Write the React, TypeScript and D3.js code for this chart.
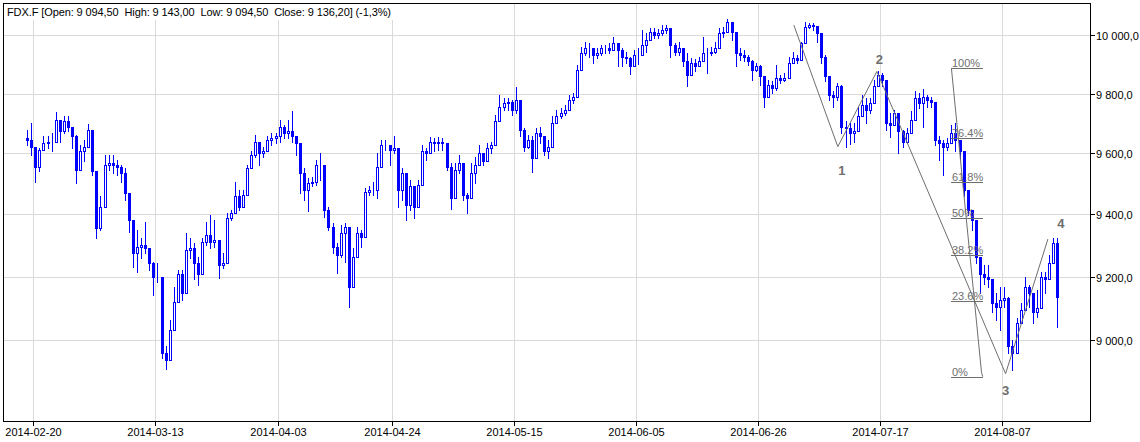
import React from 'react';
import * as d3 from 'd3';

// ---- data (two bars per trading day, open = previous close) ----
const firstOpen = 9650;
const closes = [
  9645, 9622, 9556, 9611, 9634, 9639, 9639, 9712, 9673, 9706,
  9689, 9656, 9545, 9606, 9622, 9678, 9540, 9355, 9425, 9562,
  9567, 9562, 9556, 9534, 9469, 9382, 9274, 9296, 9301, 9290,
  9242, 9199, 9199, 8960, 8940, 9032, 9121, 9210, 9147, 9285,
  9290, 9242, 9210, 9312, 9333, 9312, 9317, 9237, 9242, 9387,
  9403, 9458, 9425, 9463, 9551, 9595, 9639, 9600, 9606, 9645,
  9651, 9656, 9689, 9667, 9673, 9656, 9634, 9534, 9480, 9502,
  9507, 9562, 9562, 9414, 9360, 9296, 9269, 9339, 9360, 9168,
  9263, 9339, 9328, 9474, 9480, 9480, 9556, 9628, 9628, 9611,
  9617, 9480, 9534, 9431, 9491, 9425, 9496, 9606, 9600, 9639,
  9634, 9639, 9634, 9556, 9452, 9545, 9567, 9463, 9452, 9534,
  9562, 9600, 9573, 9617, 9628, 9706, 9756, 9768, 9773, 9745,
  9779, 9678, 9622, 9645, 9584, 9667, 9656, 9606, 9622, 9701,
  9723, 9734, 9745, 9779, 9790, 9881, 9938, 9955, 9955, 9932,
  9938, 9955, 9955, 9949, 9972, 9949, 9926, 9920, 9892, 9932,
  9932, 9966, 9983, 10011, 10000, 10006, 10017, 10023, 9966, 9943,
  9955, 9909, 9864, 9903, 9892, 9909, 9938, 9938, 9943, 9955,
  10006, 10011, 10045, 10011, 9938, 9932, 9926, 9909, 9881, 9892,
  9858, 9790, 9830, 9818, 9852, 9847, 9852, 9903, 9920, 9915,
  9972, 10028, 10034, 10031, 10006, 9926, 9858, 9796, 9790, 9826,
  9689, 9684, 9667, 9673, 9723, 9762, 9745, 9768, 9824, 9864,
  9847, 9701, 9695, 9734, 9673, 9639, 9667, 9712, 9784, 9768,
  9790, 9779, 9773, 9645, 9634, 9622, 9634, 9667, 9645, 9606,
  9480, 9414, 9382, 9263, 9210, 9199, 9194, 9116, 9105, 9126,
  9131, 8981, 8960, 9053, 9095, 9168, 9147, 9090, 9100, 9199,
  9194, 9242, 9307, 9136,
];
const highs = [
  9678, 9701, 9606, 9617, 9656, 9656, 9667, 9737, 9712, 9723,
  9725, 9689, 9662, 9628, 9645, 9698, 9595, 9458, 9458, 9595,
  9595, 9595, 9578, 9562, 9551, 9431, 9382, 9349, 9323, 9376,
  9290, 9247, 9242, 9131, 8981, 9063, 9168, 9220, 9220, 9339,
  9323, 9307, 9263, 9323, 9376, 9398, 9382, 9274, 9274, 9403,
  9414, 9507, 9480, 9480, 9562, 9609, 9662, 9622, 9622, 9658,
  9667, 9667, 9712, 9695, 9712, 9740, 9656, 9606, 9551, 9518,
  9523, 9578, 9600, 9545, 9425, 9371, 9307, 9366, 9371, 9328,
  9290, 9360, 9349, 9485, 9491, 9504, 9600, 9645, 9645, 9628,
  9658, 9578, 9551, 9485, 9513, 9491, 9513, 9628, 9617, 9654,
  9651, 9654, 9651, 9589, 9567, 9567, 9595, 9534, 9469, 9567,
  9589, 9628, 9600, 9634, 9639, 9729, 9796, 9784, 9784, 9779,
  9822, 9745, 9684, 9662, 9656, 9684, 9689, 9645, 9645, 9723,
  9745, 9751, 9762, 9796, 9801, 9898, 9960, 9977, 9974, 9955,
  9955, 9966, 9966, 9972, 9992, 9966, 9955, 9943, 9926, 9949,
  9955, 10017, 10006, 10023, 10023, 10019, 10034, 10034, 10023, 9972,
  9977, 9949, 9938, 9920, 9917, 9926, 9994, 9955, 9960, 9977,
  10023, 10028, 10055, 10034, 10006, 9955, 9949, 9932, 9915, 9903,
  9898, 9847, 9847, 9841, 9898, 9864, 9869, 9926, 9943, 9932,
  9977, 10045, 10042, 10040, 10031, 9994, 9932, 9852, 9807, 9835,
  9830, 9706, 9701, 9701, 9756, 9796, 9784, 9784, 9847, 9878,
  9869, 9847, 9734, 9745, 9734, 9678, 9684, 9740, 9807, 9801,
  9815, 9796, 9790, 9745, 9656, 9645, 9651, 9695, 9701, 9622,
  9606, 9469, 9414, 9371, 9253, 9237, 9237, 9178, 9147, 9168,
  9168, 9136, 9001, 9069, 9116, 9199, 9173, 9126, 9157, 9215,
  9215, 9269, 9323, 9323,
];
const lows = [
  9628, 9595, 9507, 9540, 9611, 9617, 9606, 9673, 9639, 9667,
  9673, 9617, 9502, 9567, 9573, 9645, 9529, 9323, 9349, 9496,
  9545, 9534, 9529, 9507, 9447, 9344, 9231, 9215, 9258, 9274,
  9220, 9142, 9183, 8945, 8912, 8981, 9048, 9168, 9126, 9258,
  9258, 9194, 9173, 9253, 9301, 9290, 9296, 9197, 9226, 9339,
  9382, 9414, 9414, 9436, 9480, 9562, 9589, 9562, 9589, 9617,
  9628, 9634, 9639, 9651, 9651, 9639, 9595, 9469, 9447, 9411,
  9491, 9496, 9513, 9392, 9349, 9274, 9212, 9263, 9247, 9103,
  9231, 9285, 9296, 9339, 9463, 9463, 9452, 9589, 9611, 9562,
  9600, 9425, 9447, 9382, 9414, 9387, 9469, 9556, 9578, 9617,
  9606, 9611, 9611, 9545, 9417, 9529, 9534, 9447, 9405, 9463,
  9502, 9567, 9562, 9600, 9600, 9689, 9740, 9745, 9745, 9729,
  9734, 9656, 9606, 9617, 9537, 9645, 9634, 9595, 9584, 9678,
  9701, 9717, 9729, 9756, 9768, 9852, 9886, 9932, 9926, 9903,
  9920, 9932, 9938, 9938, 9949, 9892, 9892, 9903, 9867, 9909,
  9901, 9932, 9943, 9989, 9989, 9989, 10000, 10006, 9926, 9932,
  9932, 9892, 9826, 9881, 9875, 9892, 9909, 9869, 9932, 9938,
  9989, 9994, 10017, 9983, 9892, 9915, 9909, 9898, 9847, 9875,
  9830, 9756, 9801, 9801, 9813, 9835, 9841, 9864, 9903, 9903,
  9915, 10006, 10023, 10017, 9977, 9903, 9841, 9779, 9756, 9779,
  9667, 9622, 9632, 9639, 9689, 9734, 9701, 9734, 9768, 9835,
  9824, 9678, 9654, 9706, 9600, 9622, 9634, 9695, 9745, 9751,
  9689, 9756, 9756, 9628, 9578, 9529, 9611, 9639, 9606, 9578,
  9458, 9398, 9349, 9242, 9147, 9178, 9168, 9090, 9063, 9032,
  9105, 8960, 8909, 8976, 9074, 9152, 9105, 9053, 9074, 9147,
  9147, 9220, 9242, 9043,
];

const tickLabels = ['2014-02-20', '2014-03-13', '2014-04-03', '2014-04-24', '2014-05-15', '2014-06-05', '2014-06-26', '2014-07-17', '2014-08-07'];
const tickDays = [1, 16, 31, 45, 60, 75, 90, 105, 120];
const yTicks = [9000, 9200, 9400, 9600, 9800, 10000];

const waveDays = [94.4, 99.8, 104.6, 120.4, 125.6];
const wavePrices = [10034, 9622, 9875, 8897, 9320];
const waveLabels = ['1', '2', '3', '4'];
const waveLabelDays = [100.3, 104.9, 120.4, 127.2];
const waveLabelPrices = [9543, 9915, 8846, 9369];

const fibHigh = 9886;
const fibLow = 8888;
const fibRatios = [1, 0.764, 0.618, 0.5, 0.382, 0.236, 0];
const fibLabels = ['100%', '76.4%', '61.8%', '50%', '38.2%', '23.6%', '0%'];
const fibDays = [113.7, 117.6];
const fibDiagDays = [113.75, 117.45, 117.6];
const fibDiagPrices = [9886, 8900, 8888];

const titleText = 'FDX.F [Open: 9 094,50  High: 9 143,00  Low: 9 094,50  Close: 9 136,20] (-1,3%)';

const W = 1140;
const H = 442;
const L = 3, T = 3, R = 1090, B = 421;
const FONT = '"Liberation Sans", Arial, sans-serif';
const BLUE = '#0000ff';
const GRID = '#dadada';
const ANN = '#6e6e6e';

const locale = d3.formatLocale({ decimal: ',', thousands: '\u00a0', grouping: [3], currency: ['', ''] });
const fmt = locale.format(',.1f');

export default function App() {
  const x = d3.scaleLinear().domain([-2.721, 130.77]).range([L, R]);
  const y = d3.scaleLog().domain([8753, 10111]).range([B, T]);

  const bars = closes.map((c, i) => {
    const o = i === 0 ? firstOpen : closes[i - 1];
    const pos = Math.floor(i / 2) + (i % 2 ? 0.75 : 0.25);
    return { o, c, h: Math.max(highs[i], o, c), l: Math.min(lows[i], o, c), pos };
  });

  const waveLine = d3.line<number>().x((d) => x(d)).y((_, i) => y(wavePrices[i]))(waveDays) || '';
  const fibDiag = d3.line<number>().x((d) => x(d)).y((_, i) => y(fibDiagPrices[i]))(fibDiagDays) || '';

  return (
    <svg width={W} height={H} style={{ display: 'block', position: 'absolute', left: 0, top: 0, background: '#fff' }} fontFamily={FONT}>
      <rect x={0} y={0} width={W} height={H} fill="#fff" />
      {/* grid */}
      <g shapeRendering="crispEdges" stroke={GRID} strokeWidth={1}>
        {yTicks.map((t) => (
          <line key={'h' + t} x1={L} x2={R} y1={Math.round(y(t)) + 0.5} y2={Math.round(y(t)) + 0.5} />
        ))}
        {tickDays.map((d) => (
          <line key={'v' + d} x1={Math.round(x(d)) + 0.5} x2={Math.round(x(d)) + 0.5} y1={T} y2={B} />
        ))}
      </g>
      {/* title */}
      <rect x={L + 1} y={T + 1} width={392} height={16} fill="#fff" />
      <text x={7} y={16} fontSize={11} fill="#000" style={{ whiteSpace: 'pre' }} textLength={384} lengthAdjust="spacing">{titleText}</text>
      {/* candles */}
      <g shapeRendering="crispEdges">
        {bars.map((b, i) => {
          const px = Math.round(x(b.pos));
          const yo = Math.round(y(b.o));
          const yc = Math.round(y(b.c));
          const yh = Math.round(y(b.h));
          const yl = Math.round(y(b.l));
          const top = Math.min(yo, yc);
          const bot = Math.max(yo, yc);
          const up = b.c >= b.o;
          return (
            <g key={i}>
              <line x1={px + 0.5} x2={px + 0.5} y1={yh} y2={yl + 1} stroke={BLUE} strokeWidth={1} />
              <rect x={px - 0.5} y={top + 0.5} width={2} height={Math.max(bot - top, 0)} fill={up ? '#fff' : BLUE} stroke={BLUE} strokeWidth={1} />
            </g>
          );
        })}
      </g>
      {/* Elliott wave */}
      <path d={waveLine} fill="none" stroke={ANN} strokeWidth={1} />
      {waveLabels.map((t, i) => (
        <text key={t} x={x(waveLabelDays[i])} y={y(waveLabelPrices[i])} fontSize={13} fontWeight="bold" fill={ANN} textAnchor="middle" dominantBaseline="central">{t}</text>
      ))}
      {/* Fibonacci */}
      <path d={fibDiag} fill="none" stroke={ANN} strokeWidth={1} />
      {fibRatios.map((r, i) => {
        const p = fibLow + (fibHigh - fibLow) * r;
        const yy = Math.round(y(p)) + 0.5;
        return (
          <g key={fibLabels[i]}>
            <line x1={x(fibDays[0])} x2={x(fibDays[1])} y1={yy} y2={yy} stroke={ANN} strokeWidth={1} shapeRendering="crispEdges" />
            <text x={x(fibDays[0]) + 1} y={yy - 2} fontSize={11} fill={ANN}>{fibLabels[i]}</text>
          </g>
        );
      })}
      {/* frame */}
      <rect x={L + 0.5} y={T + 0.5} width={R - L} height={B - T} fill="none" stroke="#000" strokeWidth={1} shapeRendering="crispEdges" />
      {/* axes */}
      <g shapeRendering="crispEdges">
        {yTicks.map((t) => {
          const yy = Math.round(y(t)) + 0.5;
          return (
            <g key={'yt' + t}>
              <line x1={R + 1} x2={R + 5} y1={yy} y2={yy} stroke="#000" />
              <text x={R + 6} y={yy} fontSize={11} fill="#000" dominantBaseline="central">{fmt(t)}</text>
            </g>
          );
        })}
        {tickDays.map((d, i) => {
          const xx = Math.round(x(d)) + 0.5;
          return (
            <g key={'xt' + d}>
              <line x1={xx} x2={xx} y1={B + 1} y2={B + 5} stroke="#000" />
              <text x={xx} y={436} fontSize={11} fill="#000" textAnchor="middle">{tickLabels[i]}</text>
            </g>
          );
        })}
      </g>
    </svg>
  );
}
